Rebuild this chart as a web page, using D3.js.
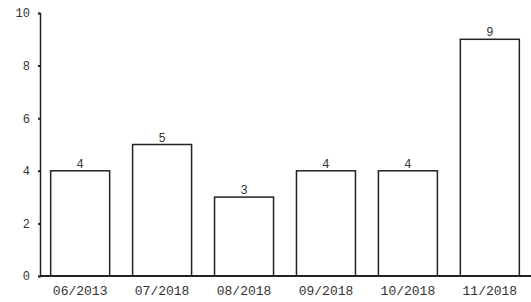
<!DOCTYPE html>
<html>
<head>
<meta charset="utf-8">
<script src="https://cdn.jsdelivr.net/npm/d3@7"></script>
<style>
  body { margin: 0; background: #fff; }
  text { font-family: "Liberation Mono", "DejaVu Sans Mono", monospace; }
</style>
</head>
<body>
<div id="chart"></div>
<script>
const months = ["06/2013", "07/2018", "08/2018", "09/2018", "10/2018", "11/2018"];
const counts = [4, 5, 3, 4, 4, 9];
const yTicks = [0, 2, 4, 6, 8, 10];

const W = 531, H = 302;
const margin = {top: 13, right: 0, bottom: 26, left: 40};

const svg = d3.select("#chart").append("svg")
    .attr("width", W)
    .attr("height", H);

const x = d3.scaleBand()
    .domain(months)
    .range([margin.left, 530])
    .paddingInner(0.28)
    .paddingOuter(0.13);

const y = d3.scaleLinear()
    .domain([0, 10])
    .range([H - margin.bottom, margin.top]);

// bars
svg.selectAll(".bar")
    .data(counts)
    .enter()
    .append("rect")
    .attr("class", "bar")
    .attr("x", (d, i) => x(months[i]))
    .attr("y", d => y(d))
    .attr("width", x.bandwidth())
    .attr("height", d => y(0) - y(d))
    .style("fill", "#fff")
    .style("stroke", "#222")
    .style("stroke-width", 1.5);

// value labels
svg.selectAll(".label")
    .data(counts)
    .enter()
    .append("text")
    .attr("x", (d, i) => x(months[i]) + x.bandwidth() / 2)
    .attr("y", d => y(d) - 3)
    .attr("text-anchor", "middle")
    .style("font-size", "12px")
    .style("fill", "#333")
    .text(d => d);

// y axis
const yAxis = d3.axisLeft(y)
    .tickValues(yTicks)
    .tickSize(2)
    .tickPadding(8);

const gy = svg.append("g")
    .attr("transform", "translate(" + margin.left + ",0)")
    .call(yAxis);
gy.select(".domain").attr("stroke", "#222").attr("stroke-width", 1.5);
gy.selectAll(".tick line").attr("stroke", "#222").attr("stroke-width", 2);
gy.selectAll("text").style("font-size", "12px").style("fill", "#333")
    .style("font-family", "'Liberation Mono', monospace");

// x axis
const xAxis = d3.axisBottom(x)
    .tickSize(0)
    .tickPadding(10);

const gx = svg.append("g")
    .attr("transform", "translate(0," + y(0) + ")")
    .call(xAxis);
gx.select(".domain").attr("d", "M" + margin.left + ",0H" + W)
    .attr("stroke", "#222").attr("stroke-width", 2);
gx.selectAll("text").style("font-size", "13px").style("fill", "#333")
    .style("font-family", "'Liberation Mono', monospace");
</script>
</body>
</html>
